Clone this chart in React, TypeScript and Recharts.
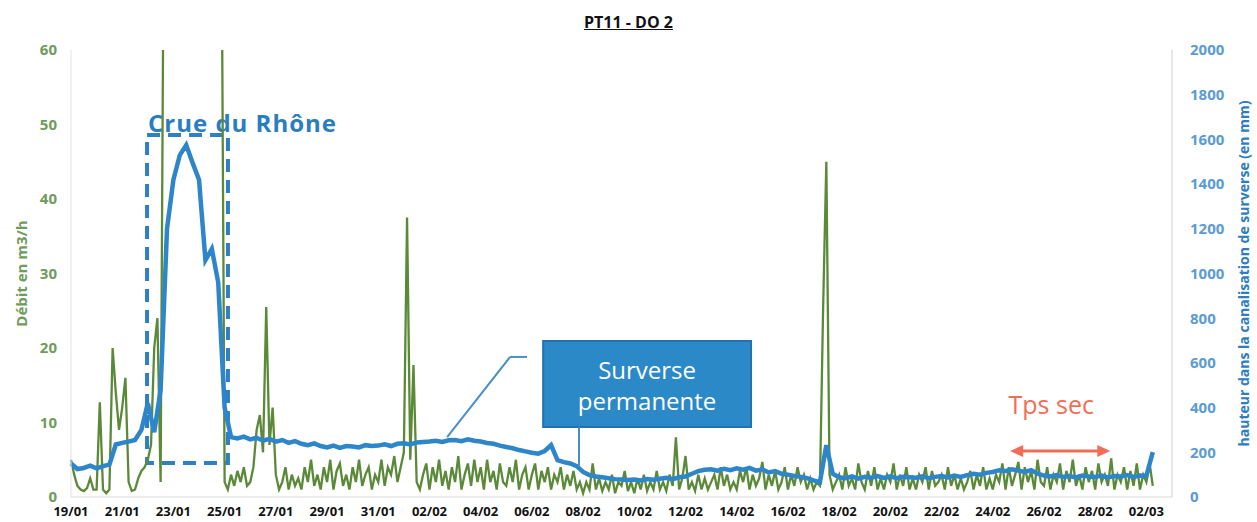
import { ComposedChart, Line, XAxis, YAxis, ReferenceArea, ReferenceLine } from 'recharts'

// days since 19/01, one tick every 2 days
const dateTicks = [0, 2, 4, 6, 8, 10, 12, 14, 16, 18, 20, 22, 24, 26, 28, 30, 32, 34, 36, 38, 40, 42]
const dateLabels = [
  '19/01', '21/01', '23/01', '25/01', '27/01', '29/01', '31/01', '02/02', '04/02', '06/02', '08/02',
  '10/02', '12/02', '14/02', '16/02', '18/02', '20/02', '22/02', '24/02', '26/02', '28/02', '02/03'
]
const debitTicks = [0, 10, 20, 30, 40, 50, 60]
const hauteurTicks = [0, 200, 400, 600, 800, 1000, 1200, 1400, 1600, 1800, 2000]

// Débit (m3/h), 8 readings per day (every 3h); values above 60 are off scale
const debitPerDay = 8
const debit = [
  5, 3, 1.5, 1, 0.8, 1.2, 2.5, 1,
  1, 12.7, 1, 0.5, 1, 20, 14, 9,
  12, 16, 2, 0.8, 1, 2.5, 3.5, 4,
  5, 7, 20, 24, 2, 80, 80, 80,
  80, 80, 80, 80, 80, 80, 80, 80,
  80, 80, 80, 80, 80, 80, 80, 80,
  2, 1, 3, 1.5, 3.5, 2, 4, 1.5,
  2, 4, 9, 11, 6, 25.5, 7, 12,
  3, 1, 2, 4, 1, 3, 1.5, 2.5,
  1, 4, 2, 5, 1.5, 3, 1, 4,
  2, 5, 1, 3.5, 4.5, 1.5, 3, 1,
  4, 2, 5, 1.5, 3, 4, 1, 3,
  2, 5, 1.5, 4, 3, 5.5, 2, 4,
  6, 37.5, 5, 17.7, 2, 1, 3, 4.5,
  1, 4, 2, 5, 1.5, 3.5, 1, 4,
  2, 5.5, 1, 3, 4.5, 1.5, 5, 2,
  4, 1, 5, 2, 3.5, 1, 4.5, 2,
  1.5, 4, 2, 5, 1, 3, 4, 1,
  3, 4.5, 1, 3.5, 2, 4, 1, 3,
  2, 4, 1, 3, 1.5, 3.5, 1, 2,
  0.5, 2, 1, 4.5, 1, 2.5, 0.8, 2,
  1, 3, 0.5, 2, 1.5, 3.5, 0.8, 2,
  0.5, 2.5, 1, 3, 0.8, 2, 1, 3.5,
  1, 2, 0.8, 3, 1.5, 8, 1, 2.5,
  5.5, 1, 2, 0.8, 3, 1, 2.5, 1,
  2, 3, 1, 4, 1.5, 3, 1, 2,
  1, 3.5, 2, 4, 1, 3, 1.5, 2.5,
  4.7, 1, 3, 1.5, 3.5, 1, 2, 4,
  1, 3, 1.5, 4, 2, 3, 1, 2.5,
  1, 2, 1.5, 25.5, 45, 3, 1, 2,
  3, 1, 4, 1.5, 2.5, 1, 4.5, 2,
  1, 3.5, 1.5, 4, 1, 2.5, 1, 3,
  2, 4.5, 1, 3, 1.5, 4, 1, 2.5,
  1, 3, 2, 4, 1, 3.5, 1.5, 2,
  3, 1, 4, 1.5, 3, 1, 2.5, 1,
  2, 3.5, 1, 3, 1.5, 4, 1, 2.5,
  1, 3, 2, 4.5, 1, 4, 1.5, 3,
  4.7, 1, 4, 2, 3.5, 1, 5, 2,
  1.5, 4, 1, 3, 2, 4.5, 1, 3.5,
  2, 5, 1.5, 3, 1, 4, 2, 3.5,
  1, 4.5, 2, 3, 1.5, 5.2, 1, 3,
  2, 4, 1, 3.5, 1.5, 4.5, 1, 3,
  2, 4.5, 1.5
]

// hauteur (mm), 4 readings per day
const hauteurPerDay = 4
const hauteur = [
  150, 125, 130, 140,
  128, 138, 145, 235,
  242, 248, 255, 300,
  420, 290, 480, 1200,
  1420, 1530, 1575, 1495,
  1420, 1060, 1110, 960,
  400, 268, 262, 270,
  258, 265, 252, 260,
  248, 255, 242, 250,
  238, 232, 240, 228,
  222, 230, 220, 228,
  226, 222, 232, 228,
  230, 236, 228, 238,
  240, 235, 244, 246,
  248, 252, 246, 254,
  255, 250, 258, 252,
  248, 242, 238, 230,
  224, 218, 210, 204,
  198, 194, 206, 232,
  165, 156, 150, 138,
  112, 98, 92, 88,
  84, 80, 78, 76,
  78, 74, 80, 77,
  82, 86, 80, 88,
  92, 104, 116, 122,
  124, 118, 126, 120,
  128, 122, 130, 118,
  124, 110, 116, 104,
  100, 94, 90, 84,
  74, 66, 232, 104,
  88, 84, 92, 82,
  90, 86, 94, 85,
  92, 84, 90, 88,
  86, 92, 84, 90,
  94, 88, 96, 90,
  98, 104, 100, 108,
  112, 120, 116, 124,
  118, 112, 120, 104,
  96, 92, 98, 90,
  94, 88, 96, 92,
  90, 96, 88, 94,
  92, 98, 90, 96,
  95, 201
]

const debitData = debit.map((v, i) => ({ day: i / debitPerDay, v }))
const hauteurData = hauteur.map((v, i) => ({ day: i / hauteurPerDay, v }))

const GREEN = '#5A8A38'
const BLUE = '#2E86CA'
const FONT = '"Open Sans", sans-serif'

const CrueLabel = ({ viewBox }: any) => (
  <text x={viewBox.x + 1} y={viewBox.y - 3} fill='#2A7DC0' fontSize={24} fontWeight={700} fontFamily={FONT} letterSpacing={1}>
    Crue du Rhône
  </text>
)

const SurverseLabel = ({ viewBox }: any) => {
  const cx = viewBox.x + viewBox.width / 2
  return (
    <g fill='#fff' fontSize={24} fontFamily={FONT} textAnchor='middle'>
      <text x={cx} y={viewBox.y + 38}>Surverse</text>
      <text x={cx} y={viewBox.y + 69}>permanente</text>
    </g>
  )
}

const TpsSecArrow = (props: any) => {
  const { x1, y1, x2, y2 } = props
  const c = '#F26D55'
  return (
    <g>
      <line x1={x1 + 10} y1={y1} x2={x2 - 10} y2={y2} stroke={c} strokeWidth={3} />
      <polygon points={`${x1},${y1} ${x1 + 13},${y1 - 6} ${x1 + 13},${y1 + 6}`} fill={c} />
      <polygon points={`${x2},${y2} ${x2 - 13},${y2 - 6} ${x2 - 13},${y2 + 6}`} fill={c} />
      <text x={(x1 + x2) / 2 - 9} y={y1 - 37} fill={c} fontSize={25} fontFamily={FONT} textAnchor='middle'>
        Tps sec
      </text>
    </g>
  )
}

const LeftTitle = ({ viewBox }: any) => {
  const x = viewBox.x + 21
  const y = viewBox.y + viewBox.height / 2
  return (
    <text x={x} y={y} transform={`rotate(-90 ${x} ${y})`} textAnchor='middle' dominantBaseline='central'
      fill='#6F9B5B' fontSize={15} fontWeight={700} fontFamily={FONT}>
      Débit en m3/h
    </text>
  )
}

const RightTitle = ({ viewBox }: any) => {
  const x = viewBox.x + 71
  const y = viewBox.y + viewBox.height / 2
  return (
    <text x={x} y={y} transform={`rotate(-90 ${x} ${y})`} textAnchor='middle' dominantBaseline='central'
      fill='#2E7CC2' fontSize={14} fontWeight={700} fontFamily={FONT}>
      hauteur dans la canalisation de surverse (en mm)
    </text>
  )
}

export default function App() {
  return (
    <div style={{ position: 'absolute', left: 0, top: 0, width: 1257, height: 522, background: '#fff' }}>
      <div
        style={{
          position: 'absolute', left: 0, top: 13, width: 1257, textAlign: 'center',
          fontFamily: FONT, fontWeight: 700, fontSize: 16, lineHeight: '18px', textDecoration: 'underline', color: '#111'
        }}
      >
        PT11 - DO 2
      </div>
      <ComposedChart width={1257} height={522} margin={{ top: 50, right: 0, bottom: 0, left: 0 }}>
        <XAxis
          type='number'
          dataKey='day'
          domain={[0, 43]}
          ticks={dateTicks}
          tickFormatter={(v: number) => dateLabels[v / 2]}
          height={25}
          tickSize={0}
          tickMargin={10}
          axisLine={{ stroke: '#d9d9d9' }}
          tick={{ fill: '#111', fontSize: 13, fontWeight: 700, fontFamily: FONT }}
        />
        <YAxis
          yAxisId='left'
          domain={[0, 60]}
          ticks={debitTicks}
          allowDataOverflow
          width={71}
          tickSize={0}
          tickMargin={14}
          axisLine={{ stroke: '#e3e3e3' }}
          tick={{ fill: '#6F9B5B', fontSize: 15, fontWeight: 700, fontFamily: FONT }}
          label={{ content: LeftTitle }}
        />
        <YAxis
          yAxisId='right'
          orientation='right'
          domain={[0, 2000]}
          ticks={hauteurTicks}
          width={85}
          tickSize={0}
          tickMargin={18}
          axisLine={{ stroke: '#cfcfcf' }}
          tick={{ fill: '#5B9BD5', fontSize: 15, fontWeight: 700, fontFamily: FONT, textAnchor: 'start' }}
          label={{ content: RightTitle }}
        />
        <Line
          yAxisId='left'
          data={debitData}
          dataKey='v'
          stroke={GREEN}
          strokeWidth={2.3}
          dot={false}
          activeDot={false}
          isAnimationActive={false}
        />
        <Line
          yAxisId='right'
          data={hauteurData}
          dataKey='v'
          stroke={BLUE}
          strokeWidth={4.5}
          dot={false}
          activeDot={false}
          isAnimationActive={false}
        />
        <ReferenceArea
          yAxisId='left'
          x1={2.97}
          x2={6.13}
          y1={4.56}
          y2={48.6}
          fill='none'
          fillOpacity={0}
          stroke='#2E7FC4'
          strokeWidth={4}
          strokeDasharray='13 8'
          label={CrueLabel}
        />
        <ReferenceLine
          yAxisId='left'
          segment={[{ x: 14.69, y: 8.05 }, { x: 17.15, y: 18.8 }]}
          stroke='#4A8FC4'
          strokeWidth={2}
        />
        <ReferenceLine
          yAxisId='left'
          segment={[{ x: 17.15, y: 18.8 }, { x: 17.81, y: 18.8 }]}
          stroke='#4A8FC4'
          strokeWidth={2}
        />
        <ReferenceLine
          yAxisId='left'
          segment={[{ x: 19.84, y: 9.4 }, { x: 19.84, y: 4.03 }]}
          stroke='#4A8FC4'
          strokeWidth={2}
        />
        <ReferenceArea
          yAxisId='left'
          x1={18.44}
          x2={26.56}
          y1={9.4}
          y2={20.94}
          fill='#2B89C8'
          fillOpacity={1}
          stroke='#2372AE'
          strokeWidth={2}
          label={SurverseLabel}
        />
        <ReferenceLine
          yAxisId='left'
          segment={[{ x: 36.68, y: 6.17 }, { x: 40.59, y: 6.17 }]}
          shape={TpsSecArrow}
        />
      </ComposedChart>
    </div>
  )
}
